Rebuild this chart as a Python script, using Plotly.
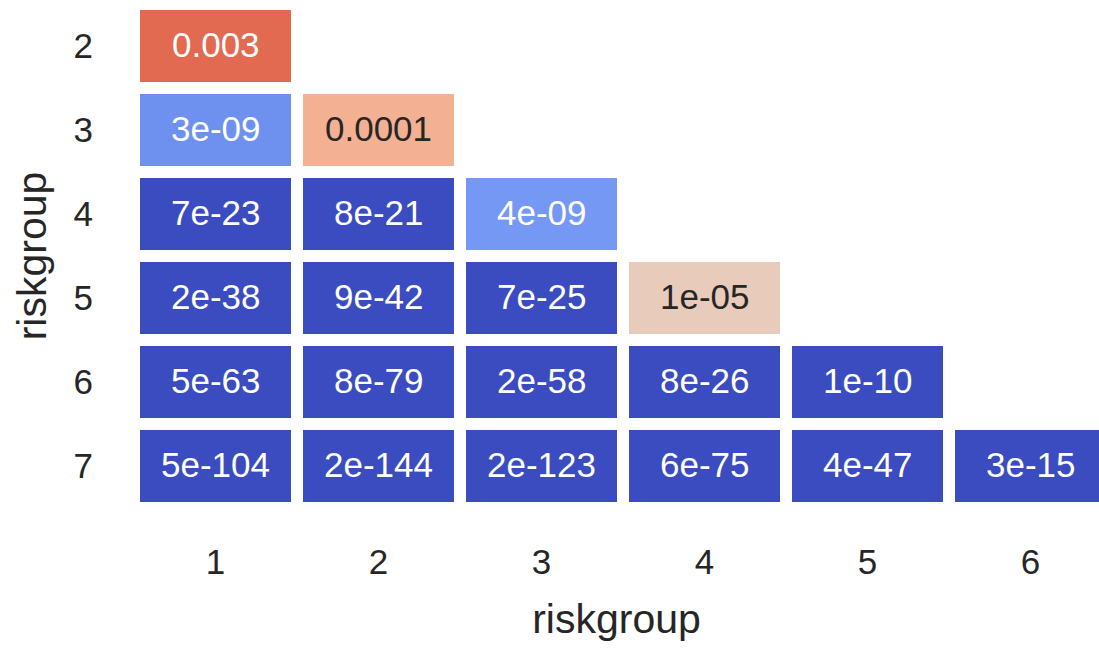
import math
import plotly.graph_objects as go

cols = [1, 2, 3, 4, 5, 6]
rows = [2, 3, 4, 5, 6, 7]
row2 = [0.003]
row3 = [3e-09, 0.0001]
row4 = [7e-23, 8e-21, 4e-09]
row5 = [2e-38, 9e-42, 7e-25, 1e-05]
row6 = [5e-63, 8e-79, 2e-58, 8e-26, 1e-10]
row7 = [5e-104, 2e-144, 2e-123, 6e-75, 4e-47, 3e-15]
pvals = [row2, row3, row4, row5, row6, row7]

z = []
for r in pvals:
    zr = [math.log10(v) for v in r] + [None] * (len(cols) - len(r))
    z.append(zr)

colorscale = [
    [0.0, "#3B4CC0"],
    [0.185, "#6E91EF"],
    [0.2, "#7498F3"],
    [0.5, "#DDDCDC"],
    [0.625, "#E8CBBB"],
    [0.75, "#F4B093"],
    [0.935, "#E16A50"],
    [1.0, "#B40426"],
]

fig = go.Figure(go.Heatmap(
    x=cols, y=rows, z=z, zmin=-10, zmax=-2,
    colorscale=colorscale, showscale=False,
    xgap=12, ygap=12, hoverinfo="skip",
))

FONT = "Liberation Sans"
anns = []
for ri, r in enumerate(pvals):
    for ci, v in enumerate(r):
        lv = math.log10(v)
        pos = (min(max(lv, -10), -2) + 10) / 8
        dark_text = 0.3 < pos < 0.8
        anns.append(dict(
            x=cols[ci], y=rows[ri], text=format(v, ".1g"), showarrow=False,
            yshift=2,
            font=dict(family=FONT, size=35, color="#262626" if dark_text else "white"),
        ))

fig.update_layout(
    width=1099, height=649,
    margin=dict(l=134, r=0, t=4, b=141),
    paper_bgcolor="white", plot_bgcolor="white",
    font=dict(family=FONT, size=35, color="#262626"),
    annotations=anns,
    xaxis=dict(
        range=[0.5, 6.42], tickvals=cols, ticktext=[str(c) for c in cols],
        showgrid=False, zeroline=False, showline=False, ticks="",
        ticklabelstandoff=30,
        title=dict(text="riskgroup", standoff=24, font=dict(size=41)),
        tickfont=dict(size=35),
    ),
    yaxis=dict(
        range=[7.5, 1.5], tickvals=rows, ticktext=[str(r) for r in rows],
        showgrid=False, zeroline=False, showline=False, ticks="",
        ticklabelstandoff=40,
        title=dict(text="riskgroup", standoff=14, font=dict(size=41)),
        tickfont=dict(size=35),
    ),
)

fig.write_html("out.html", config={"displayModeBar": False},
               post_script="document.body.style.margin='0';")
